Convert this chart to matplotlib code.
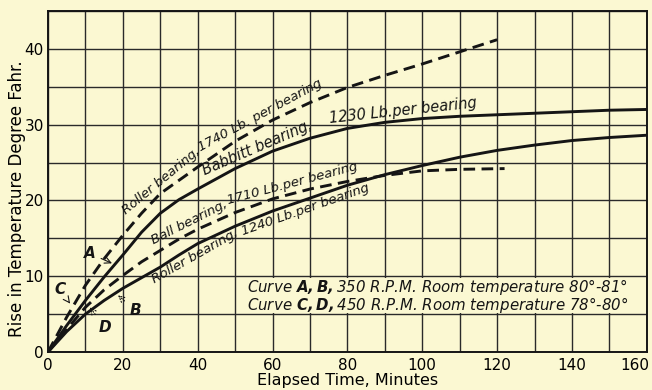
import matplotlib
matplotlib.use('Agg')
import matplotlib.pyplot as plt
from matplotlib.patches import Rectangle
from matplotlib.transforms import ScaledTranslation
import numpy as np

# bearing temperature rise curves
# curve A / C : roller bearing 1740 Lb (dashed)
rollerHeavyT = [0, 5, 10, 15, 20, 25, 30, 40, 50, 60, 70, 80, 90, 100, 110, 120]
rollerHeavyRise = [0, 4.6, 8.8, 12.3, 15.4, 18.3, 20.9, 24.4, 27.8, 30.6, 32.9, 34.9, 36.5, 38.0, 39.6, 41.2]

# babbitt bearing 1230 Lb (solid)
babbittT = [0, 5, 10, 15, 20, 25, 30, 35, 40, 50, 60, 70, 80, 90, 100, 110, 120, 130, 140, 150, 160]
babbittRise = [0, 3.5, 6.8, 9.9, 12.8, 15.8, 18.3, 20.1, 21.5, 24.2, 26.5, 28.2, 29.5, 30.3, 30.8, 31.1, 31.3, 31.5, 31.7, 31.9, 32.0]

# ball bearing 1710 Lb (dashed)
ballT = [0, 5, 10, 15, 20, 25, 30, 35, 40, 50, 60, 70, 80, 90, 100, 110, 122]
ballRise = [0, 3.0, 5.9, 8.2, 10.1, 11.9, 13.4, 14.9, 16.2, 18.4, 20.2, 21.5, 22.5, 23.3, 23.9, 24.1, 24.2]

# roller bearing 1240 Lb (solid)
rollerLightT = [0, 5, 10, 15, 20, 25, 30, 35, 40, 50, 60, 70, 80, 90, 100, 110, 120, 130, 140, 150, 160]
rollerLightRise = [0, 2.7, 5.0, 6.8, 8.4, 9.8, 11.2, 12.8, 14.3, 16.6, 18.6, 20.3, 22.0, 23.4, 24.6, 25.7, 26.6, 27.3, 27.9, 28.3, 28.6]

xTicks = [0, 20, 40, 60, 80, 100, 120, 140, 160]
yTicks = [0, 10, 20, 30, 40]

noteLines = ['Curve $\\mathbf{A,B,}$350 R.P.M. Room temperature 80°-81°',
             'Curve $\\mathbf{C,D,}$450 R.P.M. Room temperature 78°-80°']

bg = '#FBF8D2'
ink = '#151515'

plt.rcParams['font.family'] = ['DejaVu Sans']
plt.rcParams['mathtext.fontset'] = 'custom'
plt.rcParams['mathtext.bf'] = 'DejaVu Sans:italic:bold'
plt.rcParams['mathtext.rm'] = 'DejaVu Sans:italic'

fig, ax = plt.subplots(figsize=(6.52, 3.9), dpi=100)
fig.patch.set_facecolor(bg)
ax.set_facecolor(bg)
fig.subplots_adjust(left=0.0736, right=0.992, top=0.972, bottom=0.0974)

# grid every 10 min / 5 degrees
ax.set_xticks(range(0, 161, 10), minor=True)
ax.set_yticks(range(0, 46, 5), minor=True)
ax.grid(which='both', color='#2a2a2a', linewidth=1.0)
ax.set_axisbelow(True)

lw = 2.1
ax.plot(rollerHeavyT, rollerHeavyRise, color=ink, lw=lw, dashes=(4, 2.2))
ax.plot(babbittT, babbittRise, color=ink, lw=lw)
ax.plot(ballT, ballRise, color=ink, lw=lw, dashes=(4, 2.2))
ax.plot(rollerLightT, rollerLightRise, color=ink, lw=lw)

ax.set_xlim(0, 160)
ax.set_ylim(0, 45)
ax.set_xticks(xTicks)
ax.set_yticks(yTicks)
ax.tick_params(which='both', length=0)
ax.tick_params(axis='x', pad=4, labelsize=11)
ax.tick_params(axis='y', pad=3, labelsize=11)
for s in ax.spines.values():
    s.set_linewidth(1.4)
    s.set_color(ink)

# keep the last x label inside the figure
last = ax.get_xticklabels()[-1]
last.set_ha('right')
last.set_transform(last.get_transform() + ScaledTranslation(3 / 100, 0, fig.dpi_scale_trans))

ax.set_xlabel('Elapsed Time, Minutes', fontsize=11.5)
ax.set_ylabel('Rise in Temperature Degree Fahr.', fontsize=12)
ax.xaxis.set_label_coords(0.5, -0.062)
ax.yaxis.set_label_coords(-0.037, 0.45)


def curveLabel(xs, ys, x0, text, off, size=9.5, win=6):
    # put text beside a curve, turned to its local slope
    y0 = np.interp(x0, xs, ys)
    p1 = ax.transData.transform((x0 - win, np.interp(x0 - win, xs, ys)))
    p2 = ax.transData.transform((x0 + win, np.interp(x0 + win, xs, ys)))
    ang = np.degrees(np.arctan2(p2[1] - p1[1], p2[0] - p1[0]))
    nx, ny = -np.sin(np.radians(ang)), np.cos(np.radians(ang))
    ax.annotate(text, (x0, y0), xytext=(off * nx, off * ny), textcoords='offset points',
                rotation=ang, rotation_mode='anchor', ha='center', va='center',
                style='italic', fontsize=size, color=ink)


curveLabel(rollerHeavyT, rollerHeavyRise, 31.8, 'Roller bearing,', 7, 9.5, 6)
curveLabel(rollerHeavyT, rollerHeavyRise, 58, '1740 Lb. per bearing', 7, 9.5, 10)
curveLabel(babbittT, babbittRise, 57, 'Babbitt bearing,', 6.5, 10.5, 7)
curveLabel(babbittT, babbittRise, 95, '1230 Lb.per bearing', 7, 10.5, 10)
curveLabel(ballT, ballRise, 39, 'Ball bearing,', 7, 9.5, 6)
curveLabel(ballT, ballRise, 66, '1710 Lb.per bearing', 7, 9.5, 10)
curveLabel(rollerLightT, rollerLightRise, 38, 'Roller bearing,', -7, 9.5, 6)
curveLabel(rollerLightT, rollerLightRise, 68, '1240 Lb.per bearing', -7, 9.5, 10)

# A B C D pointers
letter = dict(fontsize=11, fontweight='bold', style='italic', color=ink, ha='center', va='center')
ax.annotate('A', xy=(17.1, 11.7), xytext=(11.2, 13.0), **letter,
            arrowprops=dict(arrowstyle='->', lw=0.8, color=ink, shrinkA=2, shrinkB=0))
ax.annotate('C', xy=(5.9, 6.4), xytext=(3.2, 8.2), **letter,
            arrowprops=dict(arrowstyle='->', lw=0.8, color=ink, shrinkA=2, shrinkB=0))
ax.annotate('D', xy=(11.2, 5.9), xytext=(15.2, 3.3), **letter,
            arrowprops=dict(arrowstyle='->', lw=0.8, ls=':', color=ink, shrinkA=2, shrinkB=0))
ax.annotate('B', xy=(18.7, 7.5), xytext=(23.3, 5.5), **letter,
            arrowprops=dict(arrowstyle='->', lw=0.8, ls=':', color=ink, shrinkA=2, shrinkB=0))

# clear band behind the note: hides vertical grid lines only
ax.add_patch(Rectangle((51.5, 5.18), 105.5, 4.64, facecolor=bg, edgecolor='none', zorder=0.8))
ax.text(53.2, 8.55, noteLines[0], style='italic', fontsize=10.8, ha='left', va='center', color=ink)
ax.text(53.2, 6.18, noteLines[1], style='italic', fontsize=10.8, ha='left', va='center', color=ink)

fig.savefig('out.png', dpi=100, facecolor=bg)
